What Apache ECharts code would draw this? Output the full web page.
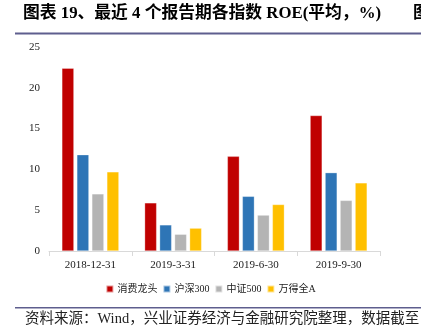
<!DOCTYPE html>
<html><head><meta charset="utf-8">
<script src="https://cdn.jsdelivr.net/npm/echarts@6/dist/echarts.min.js"></script>
<style>html,body{margin:0;padding:0;background:#fff}#c{width:421px;height:336px}</style>
</head><body><div id="c"></div>
<script>
var categories = ['2018-12-31', '2019-3-31', '2019-6-30', '2019-9-30'];
var seriesNames = ['消费龙头', '沪深300', '中证500', '万得全A'];
var consumerLeaders = [22.4, 5.9, 11.6, 16.6];
var csi300 = [11.8, 3.2, 6.7, 9.6];
var csi500 = [7.0, 2.05, 4.4, 6.2];
var windA = [9.7, 2.8, 5.7, 8.35];
var yTicks = [0, 5, 10, 15, 20, 25];
var colors = ['#C00000', '#2E75B6', '#B4B4B4', '#FFC000'];

var serif = '"Liberation Serif", "Noto Sans CJK SC", serif';
var values = [consumerLeaders, csi300, csi500, windA];
var chart = echarts.init(document.getElementById('c'));
chart.setOption({
  animation: false,
  color: colors,
  grid: { left: 49, right: 41, top: 47, bottom: 85 },
  legend: {
    data: seriesNames, top: 279, left: 'center',
    itemWidth: 7, itemHeight: 7, itemGap: 5, icon: 'rect',
    textStyle: { fontFamily: serif, fontSize: 10, color: '#222', padding: [0, 0, 0, -1] }
  },
  xAxis: {
    type: 'category', data: categories,
    axisLine: { lineStyle: { color: '#D9D9D9' } },
    axisTick: { show: true, length: 5, lineStyle: { color: '#D9D9D9' } },
    axisLabel: { fontFamily: serif, fontSize: 11, color: '#222', margin: 9 }
  },
  yAxis: {
    type: 'value', min: yTicks[0], max: yTicks[yTicks.length - 1], interval: 5,
    axisLine: { show: false }, axisTick: { show: false }, splitLine: { show: false },
    axisLabel: { fontFamily: serif, fontSize: 11, color: '#222', margin: 9 }
  },
  series: seriesNames.map(function (n, i) {
    return {
      name: n, type: 'bar', data: values[i], barWidth: 12, barGap: '25%',
      itemStyle: { color: colors[i], borderColor: 'rgba(255,255,255,0.6)', borderWidth: 0.5 }
    };
  }),
  graphic: [
    { type: 'text', left: 23, top: 5, style: { text: '图表 19、最近 4 个报告期各指数 ROE(平均，%)', font: 'bold 16.8px "Liberation Serif", "Noto Sans CJK SC", serif', fill: '#000' } },
    { type: 'text', left: 413, top: 5, style: { text: '图', font: 'bold 16.8px "Liberation Serif", "Noto Sans CJK SC", serif', fill: '#000' } },
    { type: 'rect', shape: { x: 15, y: 32.5, width: 406, height: 2 }, style: { fill: '#5E5E8E' } },
    { type: 'rect', shape: { x: 15, y: 307, width: 406, height: 1.5 }, style: { fill: '#5E5E8E' } },
    { type: 'text', left: 25, top: 312, style: { text: '资料来源：Wind，兴业证券经济与金融研究院整理，数据截至', font: '14.5px "Liberation Serif", "Noto Sans CJK SC", serif', fill: '#222' } }
  ]
});
</script></body></html>
